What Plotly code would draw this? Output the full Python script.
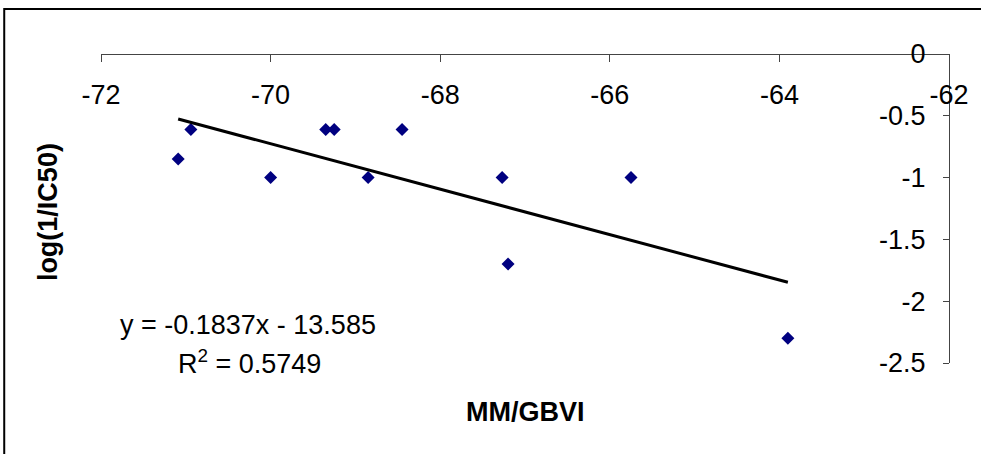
import plotly.graph_objects as go

# data
mm_gbvi = [-71.09, -70.94, -70.00, -69.35, -69.25, -68.85, -68.45, -67.27, -67.20, -65.75, -63.90]
log_ic50 = [-0.85, -0.61, -1.00, -0.61, -0.61, -1.00, -0.61, -1.00, -1.70, -1.00, -2.30]
trend_x = [-71.09, -63.90]
trend_y = [-0.526, -1.847]
x_tickvals = [-72, -70, -68, -66, -64, -62]
x_ticktext = ["-72", "-70", "-68", "-66", "-64", "-62"]
y_tickvals = [0, -0.5, -1, -1.5, -2, -2.5]
y_ticktext = ["0", "-0.5", "-1", "-1.5", "-2", "-2.5"]
eq_text = "y = -0.1837x - 13.585"
r2_text = "R<sup>2</sup> = 0.5749"
x_title = "MM/GBVI"
y_title = "log(1/IC50)"

W, H = 981, 454
L, R, T, B = 101, 30, 54, 91
PW = W - L - R
PH = H - T - B

def px(x):
    return (x - L) / PW

def py(y):
    return (H - B - y) / PH

FONT = "Arial, Liberation Sans, sans-serif"
FS = 27

fig = go.Figure()
fig.add_trace(go.Scatter(
    x=mm_gbvi, y=log_ic50, mode="markers",
    marker=dict(symbol="diamond", size=10, color="#000080", line=dict(width=0)),
    showlegend=False, cliponaxis=False,
))
fig.add_trace(go.Scatter(
    x=trend_x, y=trend_y, mode="lines",
    line=dict(color="black", width=3),
    showlegend=False,
))

fig.update_layout(
    width=W, height=H,
    margin=dict(l=L, r=R, t=T, b=B, pad=0),
    paper_bgcolor="white", plot_bgcolor="white",
    font=dict(family=FONT, size=FS, color="black"),
    xaxis=dict(
        range=[-72, -62], tickmode="array", tickvals=x_tickvals, ticktext=x_ticktext,
        anchor="free", position=1, side="bottom",
        showline=True, linecolor="#444444", linewidth=1,
        ticks="outside", ticklen=7, tickcolor="#444444",
        showgrid=False, zeroline=False,
        ticklabelstandoff=10,
        tickfont=dict(family=FONT, size=FS),
    ),
    yaxis=dict(
        range=[-2.5, 0], tickmode="array", tickvals=y_tickvals, ticktext=y_ticktext,
        anchor="free", position=1, side="left",
        showline=True, linecolor="#444444", linewidth=1,
        ticks="outside", ticklen=6, tickcolor="#444444",
        showgrid=False, zeroline=False,
        ticklabelstandoff=12,
        tickfont=dict(family=FONT, size=FS),
    ),
    shapes=[dict(
        type="rect", xref="paper", yref="paper",
        x0=px(4), x1=px(1000), y0=py(480), y1=py(9),
        line=dict(color="black", width=2), fillcolor="rgba(0,0,0,0)",
        layer="below",
    )],
    annotations=[
        dict(text=eq_text, xref="paper", yref="paper", x=px(248), y=py(325),
             xanchor="center", yanchor="middle", showarrow=False,
             font=dict(family=FONT, size=FS)),
        dict(text=r2_text, xref="paper", yref="paper", x=px(250), y=py(362),
             xanchor="center", yanchor="middle", showarrow=False,
             font=dict(family=FONT, size=FS)),
        dict(text="<b>" + x_title + "</b>", xref="paper", yref="paper", x=px(527), y=py(412),
             xanchor="center", yanchor="middle", showarrow=False,
             font=dict(family=FONT, size=FS)),
        dict(text="<b>" + y_title + "</b>", xref="paper", yref="paper", x=px(48), y=py(212),
             xanchor="center", yanchor="middle", showarrow=False, textangle=-90,
             font=dict(family=FONT, size=FS)),
    ],
)

fig.write_html("out.html")
